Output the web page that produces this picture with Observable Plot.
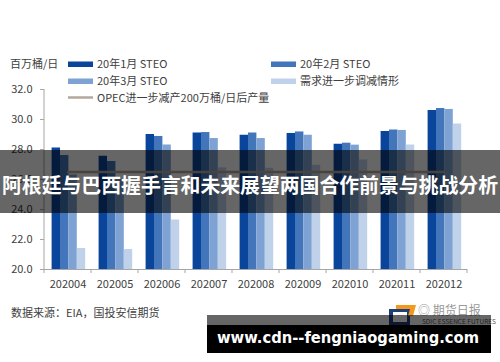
<!DOCTYPE html>
<html>
<head>
<meta charset="utf-8">
<script src="https://cdn.jsdelivr.net/npm/d3@7"></script>
<script src="https://cdn.jsdelivr.net/npm/@observablehq/plot@0.6"></script>
<style>
  html, body { margin: 0; padding: 0; background: #fff; }
  #chart { width: 500px; height: 362px; position: relative; overflow: hidden; }
  svg { display: block; }
</style>
</head>
<body>
<div id="chart"></div>
<script>
// ---- data ----
const months = ["202004", "202005", "202006", "202007", "202008", "202009", "202010", "202011", "202012"];
const janSteo = [28.1, 27.55, 29.0, 29.1, 28.95, 29.07, 28.35, 29.2, 30.6];
const febSteo = [27.6, 27.2, 28.87, 29.13, 29.1, 29.17, 28.42, 29.3, 30.73];
const marSteo = [26.3, 26.0, 28.3, 28.73, 28.73, 28.95, 28.29, 29.27, 30.67];
const demandDown = [21.4, 21.33, 23.3, 26.77, 26.75, 26.95, 27.3, 28.3, 29.7];
const opecCut = [26.5, 26.5, 26.5, 26.5, 26.5, 26.5, 26.5, 26.5, 26.5];
const seriesNames = ["20年1月 STEO", "20年2月 STEO", "20年3月 STEO", "需求进一步调减情形", "OPEC进一步减产200万桶/日后产量"];
const colors = ["#0a459c", "#4275b9", "#7ea2d3", "#c0d2ea", "#b4a79b"];
const yTicks = [20, 22, 24, 26, 28, 30, 32];
const yUnit = "百万桶/日";
const sourceText = "数据来源：EIA，国投安信期货";
const bannerText = "阿根廷与巴西握手言和未来展望两国合作前景与挑战分析";
const urlText = "www.cdn--fengniaogaming.com";

const barSeries = [janSteo, febSteo, marSteo, demandDown];
const rows = months.map((m, i) => ({month: m, v: barSeries.map(s => s[i]), opec: opecCut[i]}));

const font = "'Noto Sans CJK SC', 'Noto Sans', sans-serif";
const W = 500, H = 362;
const mL = 44, mR = 33, mT = 89, mB = 93;
const band = (W - mL - mR) / months.length;
const barStart = 7.6, barW = 8.4;

const barMarks = barSeries.map((s, i) => Plot.barY(rows, {
  x: "month",
  y1: 20,
  y2: d => d.v[i],
  fill: colors[i],
  insetLeft: barStart + i * barW,
  insetRight: band - barStart - (i + 1) * barW
}));

const chart = Plot.plot({
  width: W,
  height: H,
  marginLeft: mL,
  marginRight: mR,
  marginTop: mT,
  marginBottom: mB,
  style: {fontFamily: font, fontSize: "11px", color: "#404040", background: "transparent"},
  x: {domain: months, padding: 0, label: null},
  y: {domain: [20, 32], label: null},
  marks: [
    ...barMarks,
    Plot.lineY(rows, {x: "month", y: "opec", stroke: colors[4], strokeWidth: 2.5}),
    Plot.ruleY([20], {stroke: "#a6a6a6", strokeWidth: 1}),
    Plot.axisY({ticks: yTicks, tickFormat: d3.format(".1f"), tickSize: 4, tickPadding: 8, stroke: "#a6a6a6", fill: "#404040", label: null}),
    Plot.axisX({tickSize: 0, tickPadding: 11, fill: "#404040", label: null})
  ]
});

document.getElementById("chart").appendChild(chart);

const svg = d3.select(chart);
const xs = chart.scale("x");
const ys = chart.scale("y");

function addText(x, y, str, opts = {}) {
  const t = svg.append("text").attr("x", x).attr("y", y)
    .attr("text-anchor", "start")
    .attr("font-family", opts.family || font)
    .attr("font-size", opts.size || 11)
    .attr("font-weight", opts.weight || 400)
    .attr("fill", opts.fill || "#404040")
    .text(str);
  if (opts.len) t.attr("textLength", opts.len).attr("lengthAdjust", "spacingAndGlyphs");
  return t;
}

// y-axis line
svg.append("line")
  .attr("x1", mL).attr("x2", mL)
  .attr("y1", ys.apply(32)).attr("y2", ys.apply(20))
  .attr("stroke", "#a6a6a6");

// x boundary ticks
const bounds = months.map(m => xs.apply(m)).concat([xs.apply(months[months.length - 1]) + xs.bandwidth]);
bounds.forEach(bx => {
  svg.append("line")
    .attr("x1", bx).attr("x2", bx)
    .attr("y1", ys.apply(20)).attr("y2", ys.apply(20) + 4)
    .attr("stroke", "#a6a6a6");
});

// unit label
addText(10, 68, yUnit);

// legend
const legend = [
  {x: 68, y: 64, i: 0}, {x: 271, y: 64, i: 1},
  {x: 68, y: 81, i: 2}, {x: 271, y: 81, i: 3},
  {x: 68, y: 97.5, i: 4}
];
legend.forEach(l => {
  if (l.i === 4) {
    svg.append("line").attr("x1", l.x).attr("x2", l.x + 25)
      .attr("y1", l.y).attr("y2", l.y)
      .attr("stroke", colors[4]).attr("stroke-width", 2.5);
  } else {
    svg.append("rect").attr("x", l.x).attr("y", l.y - 2.5)
      .attr("width", 25).attr("height", 5.5).attr("fill", colors[l.i]);
  }
  addText(l.x + 29, l.y + 4, seriesNames[l.i]);
});

// source
addText(11, 317, sourceText);

// logo (approximate)
svg.append("rect").attr("x", 389).attr("y", 309).attr("width", 21).attr("height", 16).attr("fill", "#1f3f7a");
svg.append("rect").attr("x", 393).attr("y", 312).attr("width", 14).attr("height", 10).attr("fill", "#ffffff");
svg.append("path").attr("d", "M396,305 L416,305 L413,316 L408,316 L410,309 L396,309 Z").attr("fill", "#f39a1e");
addText(418, 315, "◎ 期货日报", {size: 12, fill: "#9a9a9a"});
addText(422, 324, "SDIC ESSENCE FUTURES", {size: 5.5, fill: "#555", len: 74});

// middle banner overlay
svg.append("rect").attr("x", 0).attr("y", 150).attr("width", W).attr("height", 63)
  .attr("fill", "rgba(0,0,0,0.6)");
addText(2, 192.5, bannerText, {size: 20, weight: 700, fill: "#fff", len: 496});

// bottom watermark
svg.append("rect").attr("x", 207).attr("y", 315).attr("width", 284).attr("height", 38)
  .attr("fill", "rgba(0,0,0,0.6)");
svg.append("rect").attr("x", 207).attr("y", 325).attr("width", 284).attr("height", 28)
  .attr("fill", "#000");
addText(217, 342.5, urlText, {family: "'DejaVu Sans', sans-serif", size: 16, weight: 700, fill: "#fff", len: 262});
</script>
</body>
</html>
